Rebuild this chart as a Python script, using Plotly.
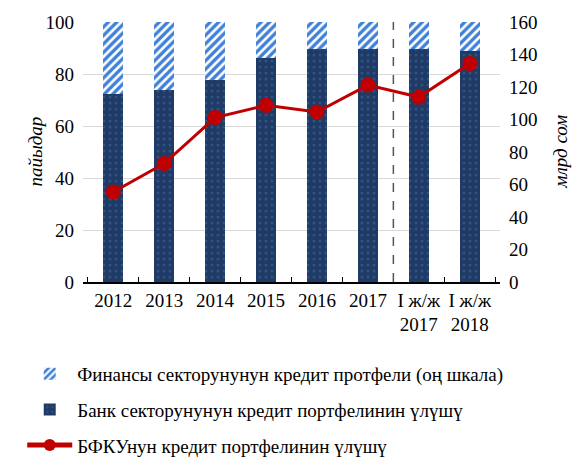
import plotly.graph_objects as go

# Chart data
categories = ["2012", "2013", "2014", "2015", "2016", "2017", "I ж/ж<br>2017", "I ж/ж<br>2018"]
bank_share = [72.2, 73.8, 77.6, 86.0, 89.5, 89.5, 89.5, 88.8]
other_share = [100 - v for v in bank_share]
portfolio = [55.4, 72.9, 101.2, 108.7, 104.6, 121.2, 113.8, 134.4]

names = [
    "Финансы секторунунун кредит протфели (оң шкала)",
    "Банк секторунунун кредит портфелинин үлүшү",
    "БФКУнун кредит портфелинин үлүшү",
]

font_family = "Liberation Serif"

fig = go.Figure()

fig.add_trace(go.Bar(
    x=categories, y=bank_share, name=names[1], legendrank=2, legendgroup="b",
    marker=dict(color="#1f3a64", line=dict(width=0),
                pattern=dict(shape=".", fgcolor="#3f6aa0", bgcolor="#1f3a64", size=6, solidity=0.2)),
))
fig.add_trace(go.Bar(
    x=categories, y=other_share, name=names[0], legendrank=1, legendgroup="a",
    marker=dict(color="#ffffff", line=dict(width=0),
                pattern=dict(shape="/", fgcolor="#3f80d8", bgcolor="#ffffff", fgopacity=1,
                             size=6, solidity=0.55)),
))
fig.add_trace(go.Scatter(
    x=categories, y=portfolio, name=names[2], legendrank=3, legendgroup="c", yaxis="y2",
    mode="lines+markers", line=dict(color="#c00000", width=3),
    marker=dict(color="#c00000", size=15),
))

# Divider between annual and half-year data
fig.add_shape(type="line", xref="x", yref="paper", x0=5.5, x1=5.5, y0=0, y1=1,
              line=dict(color="#555555", width=1.5, dash="dash"))

fig.add_annotation(text="<i>пайыдар</i>", xref="paper", yref="paper", x=-0.146, y=0.5,
                   textangle=-90, showarrow=False, font=dict(size=19))
fig.add_annotation(text="<i>млрд сом</i>", xref="paper", yref="paper", x=1.173, y=0.5,
                   textangle=-90, showarrow=False, font=dict(size=19))

# page body adds 8px around the figure, so size the figure to fit the window
fig.update_layout(
    width=569, height=454,
    margin=dict(l=75, r=77, t=14, b=180, autoexpand=False),
    barmode="stack", bargap=0.6,
    plot_bgcolor="white", paper_bgcolor="white",
    font=dict(family=font_family, size=19, color="black"),
    showlegend=True,
    legend=dict(orientation="v", xref="container", yref="container",
                x=0.025, xanchor="left", y=0.236, yanchor="top",
                font=dict(size=19), tracegroupgap=8, itemwidth=45,
                itemsizing="constant", traceorder="grouped"),
    xaxis=dict(showline=True, linecolor="black", linewidth=1.5, automargin=False,
               ticks="inside", tickson="boundaries", ticklen=5, tickcolor="black",
               tickangle=0, tickfont=dict(size=19)),
    yaxis=dict(range=[0, 100], dtick=20, showgrid=True, gridcolor="#d9d9d9",
               zeroline=False, showline=False, ticks="", automargin=False,
               ticklabelstandoff=8),
    yaxis2=dict(range=[0, 160], dtick=20, overlaying="y", side="right",
                showgrid=False, zeroline=False, showline=False, automargin=False,
                ticklabelstandoff=8),
)

fig.write_html("out.html")
